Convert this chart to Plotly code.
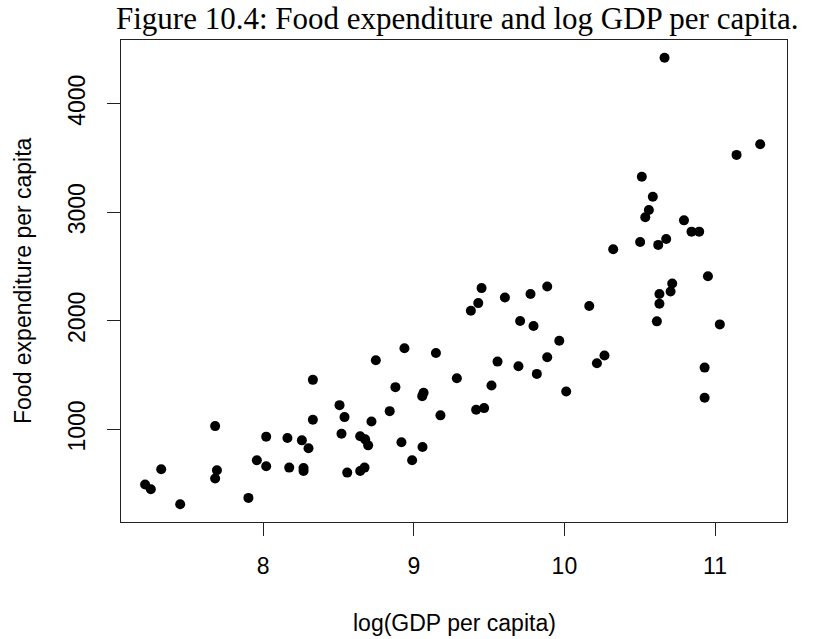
import plotly.graph_objects as go

# log GDP per capita (x) and food expenditure per capita (y)
log_gdp = [
    7.216, 7.254, 7.323, 7.449, 7.681, 7.693, 7.681, 7.902, 7.958, 8.020,
    8.020, 8.161, 8.173, 8.257, 8.301, 8.268, 8.268, 8.330, 8.330, 8.507,
    8.540, 8.520, 8.558, 8.644, 8.677, 8.697, 8.644, 8.673, 8.719, 8.748,
    8.840, 8.878, 8.918, 8.938, 8.989, 9.058, 9.065, 9.056, 9.147, 9.177,
    9.286, 9.379, 9.428, 9.450, 9.414, 9.467, 9.516, 9.556, 9.605, 9.695,
    9.706, 9.775, 9.795, 9.817, 9.886, 9.886, 9.966, 10.012, 10.165, 10.216,
    10.266, 10.324, 10.503, 10.514, 10.537, 10.561, 10.587, 10.614, 10.623, 10.631,
    10.631, 10.665, 10.676, 10.705, 10.716, 10.794, 10.844, 10.895, 10.931, 10.931,
    10.953, 11.032, 11.143, 11.300,
]
food_exp = [
    492, 449, 633, 311, 1030, 624, 547, 369, 716, 933,
    660, 920, 648, 899, 826, 645, 617, 1456, 1089, 1223,
    1113, 960, 602, 936, 908, 853, 617, 648, 1073, 1637,
    1168, 1389, 881, 1747, 715, 838, 1337, 1306, 1704, 1129,
    1471, 2093, 2163, 2301, 1181, 1196, 1404, 1624, 2215, 1581,
    1998, 2246, 1952, 1511, 2316, 1664, 1817, 1349, 2136, 1609,
    1680, 2659, 2726, 3326, 2953, 3020, 3142, 1995, 2699, 2246,
    2157, 4422, 2754, 2270, 2343, 2925, 2821, 2821, 1569, 1291,
    2411, 1967, 3528, 3626,
]

x_ticks = [8, 9, 10, 11]
y_ticks = [1000, 2000, 3000, 4000]

title_text = "Figure 10.4: Food expenditure and log GDP per capita."
x_label = "log(GDP per capita)"
y_label = "Food expenditure per capita"

sans = "Liberation Sans, Arial, sans-serif"
serif = "Liberation Serif, Times New Roman, serif"

fig = go.Figure(
    go.Scatter(
        x=log_gdp,
        y=food_exp,
        mode="markers",
        marker=dict(color="black", size=10, line=dict(width=0)),
        hoverinfo="x+y",
    )
)

axis_common = dict(
    showgrid=False,
    zeroline=False,
    showline=True,
    linecolor="#222",
    linewidth=1,
    mirror=True,
    ticks="outside",
    ticklen=13,
    tickwidth=1,
    tickcolor="#222",
    tickfont=dict(family=sans, size=23, color="black"),
)

fig.update_xaxes(
    range=[7.056, 11.478],
    tickmode="array",
    tickvals=x_ticks,
    ticktext=[str(v) for v in x_ticks],
    ticklabelstandoff=10,
    **axis_common,
)
fig.update_yaxes(
    range=[147, 4586],
    tickmode="array",
    tickvals=y_ticks,
    ticktext=[str(v) for v in y_ticks],
    tickangle=-90,
    ticklabelstandoff=13,
    **axis_common,
)

fig.update_layout(
    width=814,
    height=639,
    margin=dict(l=121, r=27, t=40, b=117),
    paper_bgcolor="white",
    plot_bgcolor="white",
    showlegend=False,
    annotations=[
        dict(
            text=title_text, xref="paper", yref="paper",
            x=0.5, y=1, yshift=40, xshift=3, xanchor="center", yanchor="top",
            showarrow=False, borderpad=0,
            font=dict(family=serif, size=31, color="black"),
        ),
        dict(
            text=x_label, xref="paper", yref="paper",
            x=0.5, y=0, yshift=-101, xanchor="center", yanchor="middle",
            showarrow=False,
            font=dict(family=sans, size=23, color="black"),
        ),
        dict(
            text=y_label, xref="paper", yref="paper",
            x=0, y=0.5, xshift=-98, xanchor="center", yanchor="middle",
            textangle=-90, showarrow=False,
            font=dict(family=sans, size=23, color="black"),
        ),
    ],
)

fig.write_html("out.html")
